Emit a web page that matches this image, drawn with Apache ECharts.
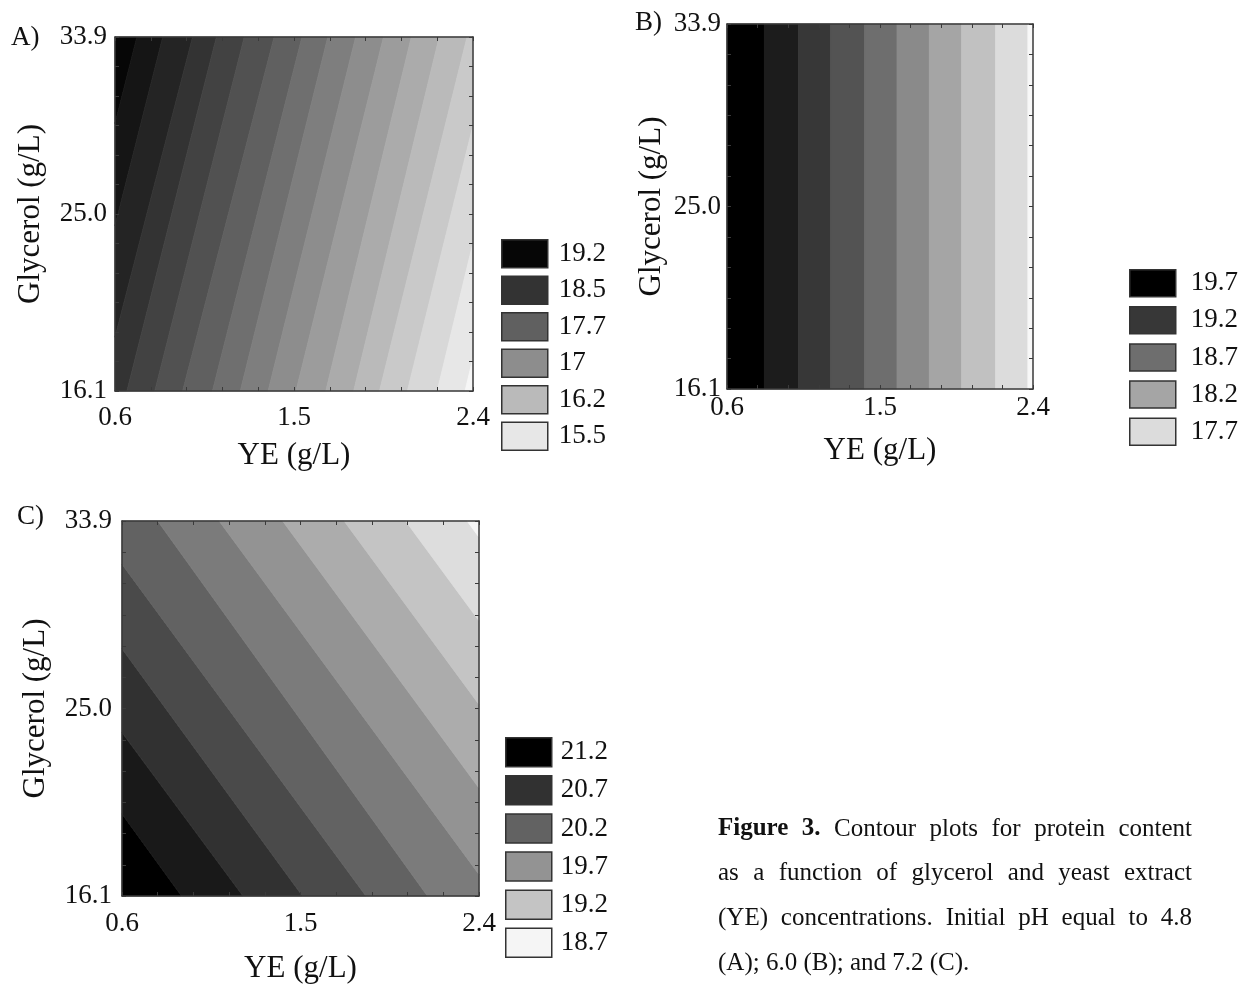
<!DOCTYPE html>
<html><head><meta charset="utf-8">
<script src="https://cdn.jsdelivr.net/npm/echarts@6/dist/echarts.min.js"></script>
<style>html,body{margin:0;padding:0;background:#fff}#c{width:1243px;height:985px}</style>
</head><body><div id="c"></div>
<script>
// ---------------- DATA ----------------
const yeRange = [0.6, 2.4];           // YE (g/L)
const glyRange = [16.1, 33.9];        // Glycerol (g/L)
const yeTickLabels = [0.6, 1.5, 2.4];
const glyTickLabels = [16.1, 25.0, 33.9];

// Panel A: contour boundaries, YE value where each line meets Glycerol = 33.9 (top) and 16.1 (bottom)
const aTopYE    = [0.71, 0.84, 0.99, 1.11, 1.25, 1.40, 1.54, 1.67, 1.81, 1.95, 2.09, 2.23, 2.37, 2.51, 2.65, 2.79];
const aBottomYE = [0.26, 0.39, 0.53, 0.66, 0.80, 0.94, 1.09, 1.23, 1.37, 1.51, 1.66, 1.80, 1.93, 2.07, 2.22, 2.36];
const aLegendLabels = ['19.2', '18.5', '17.7', '17', '16.2', '15.5'];
const aLegendBands  = [0, 3, 6, 9, 12, 15];

// Panel B: vertical contour boundaries (YE)
const bBoundYE = [0.82, 1.02, 1.21, 1.41, 1.60, 1.79, 1.98, 2.18, 2.37];
const bLegendLabels = ['19.7', '19.2', '18.7', '18.2', '17.7'];
const bLegendBands  = [0, 2, 4, 6, 8];

// Panel C: contour boundaries (YE at top / bottom, lines extended beyond the frame)
const cTopYE    = [-0.47, -0.19, 0.13, 0.44, 0.78, 1.09, 1.41, 1.72, 2.03, 2.34];
const cBottomYE = [0.90, 1.21, 1.51, 1.83, 2.14, 2.48, 2.80, 3.11, 3.42, 3.73];
const cLegendLabels = ['21.2', '20.7', '20.2', '19.7', '19.2', '18.7'];
const cLegendBands  = [0, 2, 4, 6, 8, 10];

const captionLines = [
  'Figure 3. Contour plots for protein content',
  'as a function of glycerol and yeast extract',
  '(YE) concentrations. Initial pH equal to 4.8',
  '(A); 6.0 (B); and 7.2 (C).'
];
const captionBold = ['Figure', '3.'];

// ---------------- STYLE / LAYOUT ----------------
const FONT = '"Liberation Serif", "Times New Roman", serif';
const TXT = '#111';
const FRAME = '#3a3a3a';
function gray(v) { v = Math.max(0, Math.min(255, Math.round(v))); const h = v.toString(16).padStart(2, '0'); return '#' + h + h + h; }

const panels = [
  { key: 'A', top: aTopYE, bottom: aBottomYE, legend: aLegendLabels, legendBands: aLegendBands,
    color: k => gray(6 + k * 15),
    grid: { left: 115, top: 37, width: 358, height: 354 },
    xLabelMargin: 13, yLabelMargin: 8, xNameGap: 49, yNameGap: 69,
    legendPos: { left: 501, top: 239 }, legendItemH: 28, legendGap: 7, legendTextPad: 6,
    letter: { text: 'A)', left: 11, top: 23 } },
  { key: 'B', top: bBoundYE, bottom: bBoundYE, legend: bLegendLabels, legendBands: bLegendBands,
    color: k => gray(k * 27.5),
    grid: { left: 727, top: 24, width: 306, height: 365 },
    xLabelMargin: 5, yLabelMargin: 6, xNameGap: 46, yNameGap: 60,
    legendPos: { left: 1129, top: 269 }, legendItemH: 27, legendGap: 8.6, legendTextPad: 10,
    letter: { text: 'B)', left: 635, top: 8 } },
  { key: 'C', top: cTopYE, bottom: cBottomYE, legend: cLegendLabels, legendBands: cLegendBands,
    color: k => gray(k * 24.5),
    grid: { left: 122, top: 521, width: 357, height: 377 },
    xLabelMargin: 14, yLabelMargin: 10, xNameGap: 57, yNameGap: 71,
    legendPos: { left: 505, top: 737 }, legendItemH: 29, legendGap: 7.6, legendTextPad: 4,
    letter: { text: 'C)', left: 17, top: 502 } }
];

const xTicks = []; for (let i = 0; i <= 10; i++) xTicks.push(yeRange[0] + i * (yeRange[1] - yeRange[0]) / 10);
const yTicks = []; for (let i = 0; i <= 12; i++) yTicks.push(glyRange[0] + i * (glyRange[1] - glyRange[0]) / 12);

function clipHalf(pts, inside, xc) {
  const out = [];
  for (let i = 0; i < pts.length; i++) {
    const cur = pts[i], prev = pts[(i - 1 + pts.length) % pts.length];
    const cin = inside(cur), pin = inside(prev);
    const cut = () => { const t = (xc - prev[0]) / (cur[0] - prev[0]); return [xc, prev[1] + t * (cur[1] - prev[1])]; };
    if (cin) { if (!pin) out.push(cut()); out.push(cur); }
    else if (pin) out.push(cut());
  }
  return out;
}
function clipX(pts, xmin, xmax) {
  return clipHalf(clipHalf(pts, p => p[0] >= xmin, xmin), p => p[0] <= xmax, xmax);
}

const grids = [], xAxes = [], yAxes = [], series = [], legends = [], titles = [];
const axisLine = { show: true, onZero: false, lineStyle: { color: FRAME, width: 1.5 } };
const labelStyle = { fontFamily: FONT, fontSize: 27, color: TXT };
const nameStyle = { fontFamily: FONT, fontSize: 31, color: TXT };

panels.forEach((p, pi) => {
  grids.push(Object.assign({ containLabel: false }, p.grid));
  xAxes.push({ type: 'value', gridIndex: pi, position: 'bottom', min: yeRange[0], max: yeRange[1], z: 5,
    axisLine, splitLine: { show: false },
    axisTick: { show: true, inside: true, length: 4, customValues: xTicks, lineStyle: { color: FRAME } },
    axisLabel: { customValues: yeTickLabels, formatter: v => Number(v).toFixed(1), margin: p.xLabelMargin, ...labelStyle },
    name: 'YE (g/L)', nameLocation: 'middle', nameGap: p.xNameGap, nameTextStyle: nameStyle });
  xAxes.push({ type: 'value', gridIndex: pi, position: 'top', min: yeRange[0], max: yeRange[1], z: 5,
    axisLine, splitLine: { show: false }, axisLabel: { show: false },
    axisTick: { show: true, inside: true, length: 4, customValues: xTicks, lineStyle: { color: FRAME } } });
  yAxes.push({ type: 'value', gridIndex: pi, position: 'left', min: glyRange[0], max: glyRange[1], z: 5,
    axisLine, splitLine: { show: false },
    axisTick: { show: true, inside: true, length: 4, customValues: yTicks, lineStyle: { color: FRAME } },
    axisLabel: { customValues: glyTickLabels, formatter: v => Number(v).toFixed(1), margin: p.yLabelMargin, ...labelStyle },
    name: 'Glycerol (g/L)', nameLocation: 'middle', nameGap: p.yNameGap, nameTextStyle: nameStyle });
  yAxes.push({ type: 'value', gridIndex: pi, position: 'right', min: glyRange[0], max: glyRange[1], z: 5,
    axisLine, splitLine: { show: false }, axisLabel: { show: false },
    axisTick: { show: true, inside: true, length: 4, customValues: yTicks, lineStyle: { color: FRAME } } });

  const nBands = p.top.length + 1;
  const legendNames = [];
  for (let k = 0; k < nBands; k++) {
    const li = p.legendBands.indexOf(k);
    const name = p.key + ':' + (li >= 0 ? p.legend[li] : 'band ' + k);
    if (li >= 0) legendNames[li] = name;
    const lt = k === 0 ? yeRange[0] - 10 : p.top[k - 1];
    const lb = k === 0 ? yeRange[0] - 10 : p.bottom[k - 1];
    const rt = k === nBands - 1 ? yeRange[1] + 10 : p.top[k];
    const rb = k === nBands - 1 ? yeRange[1] + 10 : p.bottom[k];
    const col = p.color(k);
    series.push({
      type: 'custom', name, xAxisIndex: 2 * pi, yAxisIndex: 2 * pi, z: 1, silent: true,
      itemStyle: { color: col },
      data: [[lt, rt, lb, rb]],
      renderItem: (params, api) => {
        const l0 = api.value(0), r0 = api.value(1), l1 = api.value(2), r1 = api.value(3);
        let poly = [[l0, glyRange[1]], [r0, glyRange[1]], [r1, glyRange[0]], [l1, glyRange[0]]];
        poly = clipX(poly, yeRange[0], yeRange[1]);
        return { type: 'polygon', shape: { points: poly.map(pt => api.coord(pt)) },
          style: { fill: col, stroke: col, lineWidth: 0.8 } };
      }
    });
  }
  legends.push({
    orient: 'vertical', left: p.legendPos.left, top: p.legendPos.top, padding: 0,
    itemWidth: 46, itemHeight: p.legendItemH, itemGap: p.legendGap, icon: 'rect', selectedMode: false,
    itemStyle: { borderColor: '#333', borderWidth: 1.5 },
    data: legendNames, formatter: n => n.split(':')[1],
    textStyle: { fontFamily: FONT, fontSize: 27, color: TXT, lineHeight: p.legendItemH, padding: [0, 0, 0, p.legendTextPad] }
  });
  titles.push({ text: p.letter.text, left: p.letter.left, top: p.letter.top, padding: 0,
    textStyle: { fontFamily: FONT, fontSize: 27, fontWeight: 'normal', color: TXT, lineHeight: 30 } });
});

// caption, justified like the reference
const graphics = [];
(function () {
  const ctx = document.createElement('canvas').getContext('2d');
  const fs = 25, x0 = 718, x1 = 1192, ys = [829, 873, 918, 963];
  captionLines.forEach((line, li) => {
    const words = line.split(' ');
    const fonts = words.map(w => (li === 0 && captionBold.includes(w) ? 'bold ' : '') + fs + 'px ' + FONT);
    const widths = words.map((w, i) => { ctx.font = fonts[i]; return ctx.measureText(w).width; });
    const justify = li < captionLines.length - 1;
    const total = widths.reduce((a, b) => a + b, 0);
    ctx.font = fs + 'px ' + FONT;
    const space = justify ? (x1 - x0 - total) / (words.length - 1) : ctx.measureText(' ').width;
    let x = x0;
    words.forEach((w, i) => {
      graphics.push({ type: 'text', x, y: ys[li], silent: true,
        style: { text: w, font: fonts[i], fill: TXT, verticalAlign: 'middle', align: 'left' } });
      x += widths[i] + space;
    });
  });
})();

const chart = echarts.init(document.getElementById('c'), null, { renderer: 'canvas' });
chart.setOption({
  animation: false,
  backgroundColor: '#fff',
  title: titles,
  grid: grids, xAxis: xAxes, yAxis: yAxes,
  legend: legends,
  series,
  graphic: graphics
});
</script></body></html>
